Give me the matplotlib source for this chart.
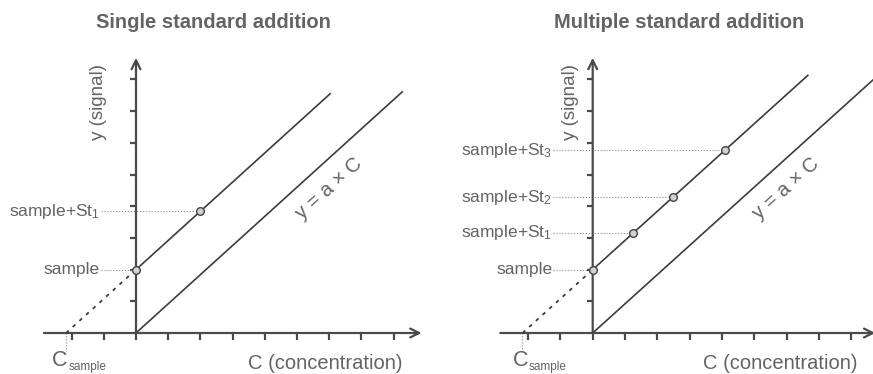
import numpy as np
import matplotlib
matplotlib.use('Agg')
import matplotlib.pyplot as plt

# ---- data (in tick units) ----
slope = 0.92                # a, slope of calibration line
sample_signal = 2.0         # signal of the pure sample
single_std = [2.0]          # concentration of added standard (single)
multi_std = [1.26, 2.48, 4.1]   # concentrations of added standards (multiple)
single_labels = ["sample", r"sample+St$_1$"]
multi_labels = ["sample", r"sample+St$_1$", r"sample+St$_2$", r"sample+St$_3$"]
titles = ["Single standard addition", "Multiple standard addition"]

plt.rcParams['font.family'] = ['Liberation Sans', 'DejaVu Sans']
plt.rcParams['mathtext.fontset'] = 'custom'
plt.rcParams['mathtext.rm'] = 'Liberation Sans'
plt.rcParams['mathtext.it'] = 'Liberation Sans'

txt_col = '#636363'
line_col = '#3c3c3c'
axis_col = '#4a4a4a'

fig = plt.figure(figsize=(8.73, 3.74), dpi=100)

# axes placed so that 1 tick ~ 32 px horizontally and ~31.7 px vertically
panels = [
    dict(rect=[0, 0, 436 / 873., 1], xlim=(-136 / 32.2, 300 / 32.2),
         std=single_std, labels=single_labels, title=titles[0],
         upper_end=6.03, lower_end=8.27, x_arrow=8.87, lab_x=-1.1,
         ylab_x=-1.18, title_x=2.39, conc_x=5.87, csamp_x=-2.6),
    dict(rect=[437 / 873., 0, 436 / 873., 1], xlim=(-155.7 / 32.3, 280.3 / 32.3),
         std=multi_std, labels=multi_labels, title=titles[1],
         upper_end=6.66, lower_end=9.5, x_arrow=8.75, lab_x=-1.23,
         ylab_x=-0.7, title_x=2.67, conc_x=5.8, csamp_x=-2.47),
]

for p in panels:
    ax = fig.add_axes(p['rect'])
    ax.set_xlim(p['xlim'])
    ax.set_ylim(-41 / 31.7, 333 / 31.7)
    ax.axis('off')

    x0 = -sample_signal / slope

    # axes with arrows
    ax.annotate('', xy=(p['x_arrow'], 0), xytext=(-2.86, 0), annotation_clip=False,
                arrowprops=dict(arrowstyle='->', lw=1.6, color=axis_col,
                                mutation_scale=16, shrinkA=0, shrinkB=0))
    ax.annotate('', xy=(0, 8.68), xytext=(0, 0), annotation_clip=False,
                arrowprops=dict(arrowstyle='->', lw=1.6, color=axis_col,
                                mutation_scale=16, shrinkA=0, shrinkB=0))
    for xt in range(-2, 9):
        ax.plot([xt, xt], [0, -0.23], color=axis_col, lw=1.6, solid_capstyle='butt')
    for yt in range(1, 9):
        ax.plot([-0.19, 0], [yt, yt], color=axis_col, lw=1.6, solid_capstyle='butt')

    # calibration line through origin and standard addition line
    xl = np.array([0, p['lower_end']])
    ax.plot(xl, slope * xl, color=line_col, lw=1.2)
    xu = np.array([0, p['upper_end']])
    ax.plot(xu, sample_signal + slope * xu, color=line_col, lw=1.2)
    ax.plot([x0, 0], [0, sample_signal], color=line_col, lw=1.3,
            linestyle=(0, (2, 3)))

    # measured points with dotted guides
    xs = np.array([0] + list(p['std']))
    ys = sample_signal + slope * xs
    for xx, yy, lab in zip(xs, ys, p['labels']):
        ax.plot([p['lab_x'], xx], [yy, yy], color='#888888', lw=0.8, linestyle=':')
        ax.text(p['lab_x'] - 0.02, yy, lab, ha='right', va='center',
                fontsize=12.5, color=txt_col)
    ax.plot(xs, ys, 'o', ms=5.5, mfc='#d2d2d2', mec='#444444', mew=1, zorder=5)

    # C sample
    ax.plot([x0, x0], [0, -0.5], color='#888888', lw=0.8, linestyle=':')
    ax.text(p['csamp_x'], -0.87, 'C', ha='left', va='center',
            fontsize=15.5, color=txt_col)
    ax.text(p['csamp_x'] + 0.5, -1.06, 'sample', ha='left', va='center',
            fontsize=8.5, color=txt_col)

    ax.text(p['conc_x'], -0.95, 'C (concentration)', ha='center', va='center',
            fontsize=14.5, color=txt_col)
    ax.text(p['ylab_x'], 7.3, 'y (signal)', ha='center', va='center',
            rotation=90, fontsize=13.5, color=txt_col)
    ax.text(6.0, 4.55, u'y = a \u00d7 C', ha='center', va='center',
            rotation=42, fontsize=14.5, color=txt_col)

    ax.text(p['title_x'], 9.78, p['title'], ha='center', va='center',
            fontsize=14.5, fontweight='bold', color=txt_col)

fig.savefig('out.png', dpi=100)
